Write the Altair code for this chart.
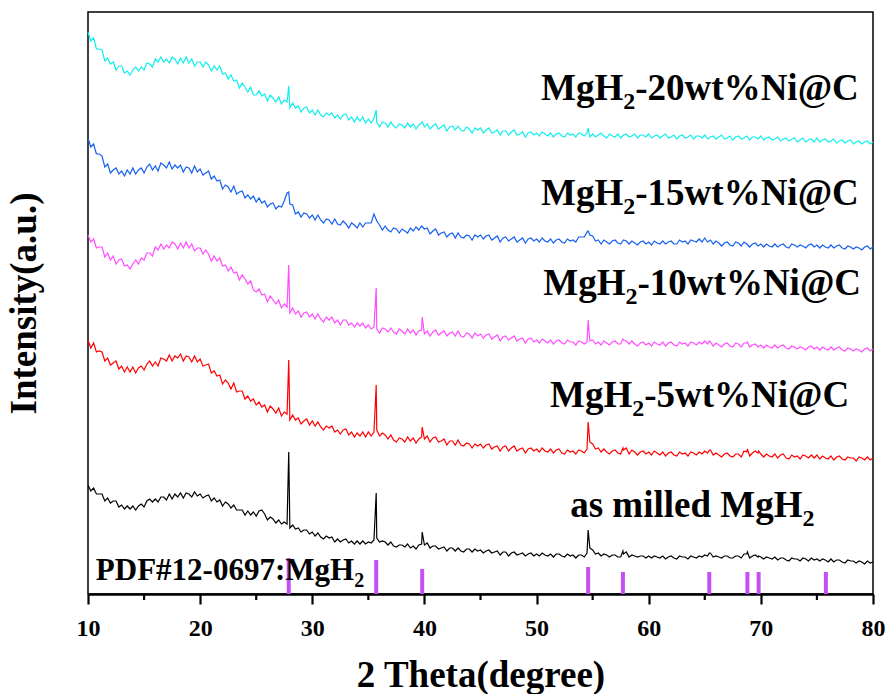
import altair as alt
import pandas as pd

# ---------------- data (intensity in arbitrary units) ----------------
# measurement grid: 10-80 deg, 0.25 deg step (281 points)
two_theta = [10 + 0.25 * i for i in range(281)]

int_20wt = [
    562, 553, 556, 545, 545, 544, 533, 536, 530, 532, 524, 528, 528, 521, 523, 519, 524, 527, 523, 527,
    524, 531, 530, 527, 535, 532, 537, 532, 535, 531, 537, 535, 530, 536, 531, 537, 531, 535, 528, 532,
    532, 527, 532, 529, 523, 528, 524, 528, 520, 521, 515, 519, 513, 514, 506, 511, 507, 502, 507, 499,
    499, 503, 498, 500, 493, 499, 496, 492, 497, 490, 494, 492, 486, 491, 486, 488, 482, 486, 487, 481,
    484, 479, 484, 479, 477, 481, 479, 481, 476, 479, 475, 479, 480, 474, 477, 472, 477, 473, 477, 471,
    475, 471, 476, 472, 467, 472, 471, 467, 472, 468, 466, 470, 469, 466, 471, 467, 470, 465, 469, 471,
    467, 470, 465, 468, 470, 465, 467, 469, 463, 467, 468, 464, 468, 464, 463, 467, 465, 461, 466, 464,
    466, 461, 464, 466, 461, 462, 464, 459, 463, 463, 459, 462, 464, 459, 460, 462, 457, 461, 462, 459,
    461, 458, 462, 460, 458, 461, 457, 460, 461, 458, 457, 461, 459, 460, 457, 461, 460, 458, 461, 457,
    460, 457, 459, 461, 458, 456, 460, 458, 457, 460, 456, 459, 460, 457, 458, 460, 456, 459, 459, 457,
    460, 456, 458, 459, 456, 458, 460, 456, 457, 459, 455, 458, 459, 456, 457, 459, 455, 458, 458, 456,
    459, 455, 457, 458, 455, 457, 459, 455, 456, 458, 454, 457, 458, 455, 456, 458, 454, 457, 457, 455,
    458, 454, 456, 457, 454, 455, 457, 453, 455, 456, 453, 455, 456, 452, 454, 456, 452, 454, 455, 452,
    456, 452, 454, 455, 452, 453, 455, 451, 453, 454, 451, 453, 454, 450, 452, 453, 450, 452, 453, 450,
    452,
]

int_15wt = [
    456, 447, 450, 440, 440, 438, 427, 430, 421, 424, 426, 420, 423, 418, 424, 420, 426, 420, 424, 426,
    421, 427, 430, 424, 428, 423, 431, 429, 426, 432, 425, 429, 426, 429, 422, 427, 426, 421, 428, 422,
    425, 419, 421, 423, 415, 418, 413, 414, 405, 409, 407, 402, 408, 400, 402, 403, 396, 399, 395, 398,
    392, 396, 391, 393, 387, 390, 391, 385, 388, 387, 393, 401, 390, 389, 380, 382, 377, 381, 380, 376,
    379, 374, 379, 374, 371, 375, 374, 370, 375, 370, 369, 373, 370, 366, 371, 369, 366, 371, 367, 371,
    371, 371, 380, 373, 369, 364, 368, 364, 362, 366, 365, 361, 365, 363, 361, 366, 363, 367, 364, 368,
    365, 366, 360, 363, 365, 359, 361, 362, 357, 360, 361, 356, 361, 357, 356, 359, 358, 354, 359, 357,
    359, 355, 358, 359, 354, 356, 358, 352, 356, 357, 353, 355, 357, 352, 354, 356, 351, 355, 356, 353,
    355, 352, 356, 353, 352, 355, 351, 354, 355, 352, 351, 355, 353, 354, 352, 357, 357, 357, 362, 359,
    358, 353, 354, 350, 354, 352, 350, 353, 354, 351, 350, 354, 353, 350, 353, 351, 349, 352, 353, 350,
    352, 349, 353, 351, 350, 353, 350, 352, 353, 350, 350, 354, 352, 353, 350, 354, 353, 352, 355, 352,
    356, 352, 354, 350, 353, 351, 348, 351, 352, 349, 348, 352, 351, 348, 352, 350, 347, 350, 351, 348,
    350, 347, 350, 348, 347, 350, 347, 349, 350, 347, 346, 350, 349, 347, 349, 348, 346, 349, 350, 347,
    349, 346, 349, 347, 346, 349, 346, 348, 349, 346, 345, 348, 347, 345, 347, 346, 344, 347, 348, 345,
    347,
]

int_10wt = [
    359, 352, 355, 346, 347, 347, 337, 341, 334, 338, 330, 334, 335, 328, 329, 325, 330, 334, 330, 336,
    334, 341, 341, 338, 347, 344, 350, 345, 349, 346, 352, 350, 345, 351, 346, 352, 346, 350, 343, 346,
    346, 340, 344, 340, 333, 338, 333, 336, 328, 329, 323, 327, 321, 322, 314, 319, 315, 310, 313, 304,
    302, 305, 299, 300, 292, 298, 294, 290, 294, 286, 290, 287, 281, 286, 280, 283, 277, 281, 282, 277,
    280, 275, 280, 275, 272, 277, 274, 277, 271, 274, 269, 274, 274, 269, 271, 267, 271, 268, 271, 266,
    269, 265, 267, 265, 261, 266, 265, 262, 266, 262, 260, 265, 263, 260, 265, 261, 264, 259, 263, 264,
    260, 263, 258, 262, 264, 259, 261, 263, 258, 261, 262, 258, 263, 258, 257, 261, 260, 256, 261, 258,
    260, 256, 259, 260, 255, 257, 259, 253, 257, 258, 254, 256, 258, 253, 255, 256, 251, 255, 256, 252,
    254, 251, 255, 253, 251, 254, 250, 253, 254, 251, 250, 254, 252, 252, 249, 253, 252, 250, 252, 253,
    254, 250, 252, 249, 253, 251, 249, 252, 253, 250, 250, 254, 253, 250, 253, 250, 248, 251, 252, 249,
    251, 248, 252, 250, 249, 252, 248, 251, 252, 249, 248, 252, 250, 251, 248, 252, 251, 249, 252, 250,
    253, 250, 252, 248, 251, 249, 247, 250, 251, 248, 247, 251, 250, 247, 251, 251, 247, 249, 250, 247,
    249, 246, 249, 247, 246, 249, 246, 248, 249, 246, 245, 248, 247, 245, 247, 246, 244, 247, 248, 245,
    247, 244, 247, 245, 244, 247, 244, 246, 247, 244, 243, 246, 245, 243, 245, 244, 242, 245, 246, 243,
    245,
]

int_5wt = [
    254, 246, 251, 242, 243, 242, 233, 236, 229, 231, 233, 225, 228, 222, 227, 222, 227, 221, 226, 228,
    224, 230, 233, 228, 232, 228, 236, 235, 233, 239, 233, 238, 236, 240, 233, 238, 237, 232, 238, 232,
    235, 228, 229, 230, 221, 223, 218, 219, 210, 214, 211, 205, 211, 202, 203, 203, 195, 198, 193, 195,
    189, 192, 187, 189, 182, 188, 185, 181, 186, 178, 182, 180, 174, 179, 174, 176, 170, 173, 175, 169,
    173, 168, 172, 167, 164, 168, 166, 168, 162, 164, 160, 164, 165, 159, 162, 157, 161, 158, 162, 157,
    162, 158, 162, 164, 158, 161, 159, 155, 159, 154, 152, 156, 155, 152, 157, 153, 156, 151, 155, 157,
    155, 158, 152, 156, 157, 152, 153, 155, 149, 153, 153, 149, 154, 149, 148, 151, 150, 146, 150, 148,
    150, 146, 149, 150, 145, 147, 148, 143, 147, 148, 143, 146, 148, 143, 145, 146, 141, 145, 146, 143,
    145, 142, 146, 143, 142, 145, 141, 144, 145, 141, 140, 144, 142, 143, 140, 144, 143, 141, 145, 152,
    150, 145, 146, 142, 145, 142, 140, 143, 144, 141, 140, 144, 146, 140, 144, 142, 139, 142, 143, 140,
    142, 139, 143, 141, 139, 142, 138, 141, 142, 139, 138, 142, 140, 141, 138, 142, 141, 139, 142, 140,
    143, 141, 144, 139, 141, 139, 137, 140, 141, 138, 137, 140, 140, 137, 143, 142, 138, 141, 143, 141,
    140, 137, 140, 138, 137, 140, 136, 139, 140, 136, 135, 139, 137, 138, 135, 139, 138, 136, 139, 136,
    139, 135, 138, 136, 135, 138, 134, 137, 138, 135, 134, 137, 136, 136, 133, 137, 136, 134, 137, 134,
    136,
]

int_milled = [
    109, 103, 106, 100, 100, 100, 93, 96, 91, 93, 93, 87, 89, 85, 88, 85, 88, 84, 88, 90,
    87, 93, 95, 92, 95, 92, 97, 97, 94, 100, 95, 100, 97, 101, 96, 101, 100, 97, 102, 98,
    100, 96, 98, 99, 93, 96, 92, 94, 88, 92, 90, 86, 89, 84, 84, 84, 79, 83, 79, 82,
    78, 83, 84, 80, 74, 77, 75, 71, 74, 70, 72, 70, 66, 69, 65, 66, 62, 64, 64, 60,
    62, 58, 61, 57, 55, 58, 56, 57, 52, 55, 52, 54, 55, 51, 53, 50, 53, 50, 53, 50,
    52, 51, 54, 56, 52, 53, 52, 49, 52, 48, 47, 49, 49, 47, 50, 46, 48, 45, 49, 50,
    49, 51, 46, 48, 48, 45, 46, 47, 43, 46, 46, 43, 46, 43, 42, 45, 45, 42, 45, 43,
    44, 41, 43, 44, 41, 42, 43, 39, 42, 42, 38, 41, 42, 39, 40, 41, 38, 40, 41, 38,
    40, 38, 41, 39, 38, 40, 37, 40, 40, 38, 37, 40, 38, 39, 36, 39, 39, 37, 41, 46,
    44, 40, 41, 38, 40, 39, 37, 39, 39, 37, 37, 40, 42, 37, 39, 38, 37, 38, 38, 36,
    38, 36, 38, 37, 36, 38, 35, 37, 38, 36, 35, 38, 37, 37, 35, 38, 37, 36, 38, 37,
    39, 38, 41, 37, 38, 37, 36, 38, 38, 36, 36, 38, 38, 36, 40, 40, 36, 38, 39, 37,
    37, 35, 37, 36, 35, 37, 34, 36, 36, 34, 33, 36, 35, 35, 33, 36, 35, 33, 36, 34,
    35, 33, 35, 34, 32, 35, 32, 34, 34, 32, 31, 34, 33, 33, 31, 33, 32, 30, 33, 31,
    32,
]

# diffraction peak apexes (2theta) and apex intensity for each pattern
peak_pos = [27.9, 35.7, 39.8, 54.6, 57.7, 65.4, 68.8, 69.8]
peak_20wt = [508, 484, 472, 466, None, None, None, None]
peak_15wt = [402, None, None, 363, None, None, None, None]
peak_10wt = [329, 306, 277, 274, 255, 253, 252, None]
peak_5wt = [234, 209, 167, 172, 146, 144, 145, 143]
peak_milled = [142, 101, 62, 64, 43, 41, 42, 38]

# reference pattern PDF#12-0697 (MgH2)
pdf_pos = [27.9, 35.7, 39.8, 54.6, 57.7, 65.4, 68.8, 69.8, 75.8]
pdf_int = [36, 34, 25, 27, 22, 22, 22, 22, 22]

series_names = ["MgH2-20wt%Ni@C", "MgH2-15wt%Ni@C", "MgH2-10wt%Ni@C",
                "MgH2-5wt%Ni@C", "as milled MgH2"]
series_colors = ["#10eeee", "#1560f0", "#ff4cff", "#ff0000", "#000000"]

# x-axis ticks
major_ticks = [10, 20, 30, 40, 50, 60, 70, 80]
minor_ticks = [15, 25, 35, 45, 55, 65, 75]

# label text pieces (prefix, subscript "2", suffix)
label_pre = ["MgH", "MgH", "MgH", "MgH", "as milled MgH", "PDF#12-0697:MgH"]
label_post = ["-20wt%Ni@C", "-15wt%Ni@C", "-10wt%Ni@C", "-5wt%Ni@C", "", ""]
label_x = [50.4, 50.4, 50.6, 51.2, 53.0, 10.7]
label_y = [494, 389, 299, 187, 77, 14]
label_size = [37, 37, 37, 37, 37, 31]

# ---------------- build tables ----------------
PLOT_W, PLOT_H = 785, 582
X_MIN, X_MAX = 10, 80

rows = []
all_int = [int_20wt, int_15wt, int_10wt, int_5wt, int_milled]
all_peaks = [peak_20wt, peak_15wt, peak_10wt, peak_5wt, peak_milled]
for name, ys, pk in zip(series_names, all_int, all_peaks):
    for xv, yv in zip(two_theta, ys):
        rows.append({"series": name, "x": xv, "y": yv})
    for xv, yv in zip(peak_pos, pk):
        if yv is not None:
            rows.append({"series": name, "x": xv, "y": yv})
df = pd.DataFrame(rows).sort_values(["series", "x"])

pdf_df = pd.DataFrame({"x": pdf_pos, "y0": [0] * len(pdf_pos), "y1": pdf_int})
minor_df = pd.DataFrame({"x": minor_ticks, "y0": [0] * len(minor_ticks),
                         "y1": [-6] * len(minor_ticks)})

# Times-bold advance widths (per 1000 em) for label prefixes
CW = {" ": 250, "#": 500, "-": 333, ":": 333, "0": 500, "1": 500, "2": 500,
      "6": 500, "7": 500, "9": 500, "D": 722, "F": 611, "H": 778, "M": 944,
      "P": 611, "a": 500, "d": 556, "e": 444, "g": 500, "i": 278, "l": 278,
      "m": 833, "s": 389}


def text_w(s, size):
    return sum(CW.get(c, 500) for c in s) / 1000.0 * size


px_per_deg = PLOT_W / (X_MAX - X_MIN)
lab_rows = []
for pre, post, lx, ly, fs in zip(label_pre, label_post, label_x, label_y, label_size):
    w_pre = text_w(pre, fs)
    sub_fs = round(fs * 0.64)
    lab_rows.append({"x": lx, "y": ly, "t": pre, "s": fs})
    lab_rows.append({"x": lx + w_pre / px_per_deg, "y": ly - fs * 0.24, "t": "2", "s": sub_fs})
    if post:
        lab_rows.append({"x": lx + (w_pre + text_w("2", sub_fs)) / px_per_deg,
                         "y": ly, "t": post, "s": fs})
lab_df = pd.DataFrame(lab_rows)

# ---------------- chart ----------------
FONT = "Liberation Serif"
xscale = alt.Scale(domain=[X_MIN, X_MAX], nice=False, zero=False)
yscale = alt.Scale(domain=[0, PLOT_H], nice=False, zero=True)

x_axis = alt.Axis(
    values=major_ticks, format="d",
    ticks=True, tickSize=10, tickWidth=2.2, tickColor="#000000",
    domain=True, domainColor="#000000", domainWidth=2.5,
    labelFont=FONT, labelFontWeight="bold", labelFontSize=24, labelColor="#000000",
    labelPadding=12, labelFlush=False,
    title="2 Theta(degree)", titleFont=FONT, titleFontWeight="bold",
    titleFontSize=37, titleColor="#000000", titlePadding=17,
    grid=False,
)
y_axis = alt.Axis(
    labels=False, ticks=False, domain=False, grid=False,
    title="Intensity(a.u.)", titleFont=FONT, titleFontWeight="bold",
    titleFontSize=37, titleColor="#000000", titlePadding=45,
)

lines = alt.Chart(df).mark_line(strokeWidth=1.2).encode(
    x=alt.X("x:Q", scale=xscale, axis=x_axis),
    y=alt.Y("y:Q", scale=yscale, axis=y_axis),
    color=alt.Color("series:N", scale=alt.Scale(domain=series_names, range=series_colors),
                    legend=None),
    detail="series:N",
)

sticks = alt.Chart(pdf_df).mark_rule(strokeWidth=4, color="#c450f5", strokeCap="butt").encode(
    x=alt.X("x:Q", scale=xscale),
    y=alt.Y("y0:Q", scale=yscale),
    y2="y1:Q",
)

minor = alt.Chart(minor_df).mark_rule(strokeWidth=2.2, color="#000000", clip=False).encode(
    x=alt.X("x:Q", scale=xscale),
    y=alt.Y("y0:Q", scale=yscale),
    y2="y1:Q",
)

labels = alt.Chart(lab_df).mark_text(
    align="left", baseline="alphabetic", font=FONT, fontWeight="bold", color="black"
).encode(
    x=alt.X("x:Q", scale=xscale),
    y=alt.Y("y:Q", scale=yscale),
    text="t:N",
    size=alt.Size("s:Q", scale=None),
)

chart = alt.layer(lines, sticks, minor, labels).properties(
    width=PLOT_W, height=PLOT_H,
    autosize=alt.AutoSizeParams(type="none"),
    padding={"left": 88, "top": 12, "right": 13, "bottom": 100},
    background="white",
).configure_view(stroke="black", strokeWidth=1.5)

chart.save("out.html", embed_options={"renderer": "svg", "actions": False})
